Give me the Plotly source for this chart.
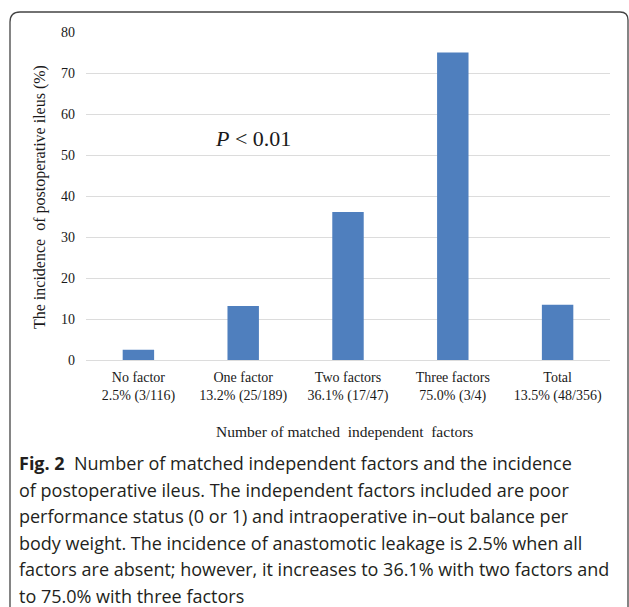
import plotly.graph_objects as go

# ---------------- data ----------------
categories = ["No factor", "One factor", "Two factors", "Three factors", "Total"]
incidence = [2.5, 13.2, 36.1, 75.0, 13.5]
counts = ["3/116", "25/189", "17/47", "3/4", "48/356"]
y_ticks = [0, 10, 20, 30, 40, 50, 60, 70, 80]
y_title = "The incidence\u00a0\u00a0of postoperative ileus (%)"
x_title = "Number of matched\u00a0\u00a0independent\u00a0\u00a0factors"
p_text = "<i>P</i> < 0.01"
caption_lines = [
    "<b>Fig. 2</b>\u00a0\u00a0Number of matched independent factors and the incidence",
    "of postoperative ileus. The independent factors included are poor",
    "performance status (0 or 1) and intraoperative in\u2013out balance per",
    "body weight. The incidence of anastomotic leakage is 2.5% when all",
    "factors are absent; however, it increases to 36.1% with two factors and",
    "to 75.0% with three factors",
]

# ---------------- geometry (pixels) ----------------
W, H = 629, 607
L, R, T, B = 86, 610, 32, 360


def px(x):
    return (x - L) / (R - L)


def py(y):
    return (B - y) / (B - T)


SERIF = "Liberation Serif, Times New Roman, serif"
SANS = "Open Sans, sans-serif"

ticktext = [f"{c}<br>{v:.1f}% ({n})" for c, v, n in zip(categories, incidence, counts)]

fig = go.Figure(
    go.Bar(
        x=categories,
        y=incidence,
        marker=dict(color="#4F7FBE", line=dict(width=0)),
        hoverinfo="skip",
    )
)

fig.update_layout(
    width=W,
    height=H,
    margin=dict(l=L, r=W - R, t=T, b=H - B),
    paper_bgcolor="white",
    plot_bgcolor="white",
    bargap=0.7,
    showlegend=False,
    font=dict(family=SERIF, size=14, color="black"),
)

fig.update_yaxes(
    range=[0, 80],
    tickvals=y_ticks,
    showgrid=True,
    gridcolor="#DCDCDC",
    gridwidth=1,
    zeroline=True,
    zerolinecolor="#DCDCDC",
    zerolinewidth=1,
    showline=False,
    ticks="",
    ticklabelstandoff=10,
    tickfont=dict(family=SERIF, size=14, color="#1a1a1a"),
)

fig.update_xaxes(
    tickvals=categories,
    ticktext=ticktext,
    showgrid=False,
    showline=False,
    ticks="",
    ticklabelstandoff=7,
    tickfont=dict(family=SERIF, size=14, color="#1a1a1a"),
)

annotations = [
    dict(text=y_title, textangle=-90, x=px(40), y=py(197), xref="paper", yref="paper",
         xanchor="center", yanchor="middle", showarrow=False,
         font=dict(family=SERIF, size=16, color="#1a1a1a")),
    dict(text=x_title, x=px(344), y=py(431), xref="paper", yref="paper",
         xanchor="center", yanchor="middle", showarrow=False,
         font=dict(family=SERIF, size=15.5, color="#1a1a1a")),
    dict(text=p_text, x=px(252.5), y=py(138), xref="paper", yref="paper",
         xanchor="center", yanchor="middle", showarrow=False,
         font=dict(family=SERIF, size=22, color="#1a1a1a")),
]

line_y = [463, 489.5, 516, 542.5, 569, 595.5]
for txt, yy in zip(caption_lines, line_y):
    annotations.append(
        dict(text=txt, x=px(17), y=py(yy), xref="paper", yref="paper",
             xanchor="left", yanchor="middle", showarrow=False,
             font=dict(family=SANS, size=18, color="#231F20"))
    )

fig.update_layout(annotations=annotations)

border = (
    f"M {px(10)},{py(640)} L {px(10)},{py(22)} Q {px(10)},{py(12)} {px(20)},{py(12)} "
    f"L {px(620)},{py(12)} Q {px(628)},{py(12)} {px(628)},{py(20)} L {px(628)},{py(640)}"
)
fig.add_shape(type="path", path=border, xref="paper", yref="paper",
              line=dict(color="#444444", width=1.3))

fig.write_html(
    "out.html",
    config={"displayModeBar": False, "staticPlot": True},
    post_script="document.body.style.margin='0';document.body.style.overflow='hidden';",
)
